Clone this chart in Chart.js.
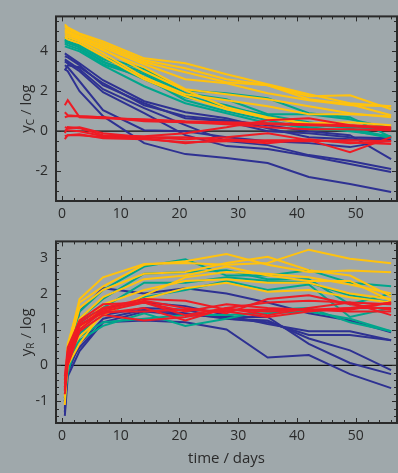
<!DOCTYPE html>
<html><head><meta charset="utf-8">
<script src="https://cdn.jsdelivr.net/npm/chart.js@4/dist/chart.umd.min.js"></script>
<style>
html,body{margin:0;padding:0;background:#9fa8ab;width:398px;height:473px;overflow:hidden;}
#c1{position:absolute;left:0;top:0;}
#c2{position:absolute;left:0;top:225px;}
</style></head><body>
<canvas id="c1" width="398" height="225"></canvas>
<canvas id="c2" width="398" height="248"></canvas>
<script>
// ---- data ----
const times = [0.5, 1, 3, 7, 14, 21, 28, 35, 42, 49, 56];
const xTickLabels = [0, 10, 20, 30, 40, 50];
const yTicksTop = [-2, 0, 2, 4];
const yTicksBottom = [-1, 0, 1, 2, 3];

// top panel: y_C
const cYellow = [
  [5.35, 5.2, 4.9, 4.5, 3.65, 3.4, 2.85, 2.35, 1.85, 1.4, 1.25],
  [5.25, 5.1, 4.85, 4.4, 3.55, 3.15, 2.6, 2.3, 1.75, 1.8, 1.1],
  [5.1, 5.0, 4.75, 4.3, 3.45, 2.95, 2.45, 2.3, 1.6, 1.35, 0.8],
  [4.95, 4.9, 4.7, 4.2, 3.35, 2.6, 2.4, 1.9, 1.55, 1.3, 1.25],
  [4.85, 4.8, 4.6, 4.05, 3.2, 2.1, 1.85, 1.6, 1.25, 0.9, 0.7],
  [4.75, 4.7, 4.5, 3.9, 2.7, 1.85, 1.55, 1.25, 0.85, 0.85, 0.75],
  [4.7, 4.6, 4.4, 3.75, 2.6, 1.75, 1.1, 0.65, 0.4, 0.45, 0.3],
  [5.0, 4.95, 4.6, 4.1, 3.0, 2.05, 1.2, 0.7, 0.35, 0.3, 0.2]
];
const cTeal = [
  [4.7, 4.65, 4.4, 3.7, 3.1, 2.05, 1.9, 1.65, 0.9, 0.7, -0.3],
  [4.6, 4.5, 4.3, 3.6, 2.95, 1.9, 1.6, 0.85, 0.85, 0.6, 0.15],
  [4.5, 4.4, 4.2, 3.45, 2.85, 1.8, 1.2, 0.8, 0.45, 0.15, -0.3],
  [4.4, 4.3, 4.1, 3.35, 2.7, 1.55, 1.0, 0.55, 0.1, 0.05, -0.35],
  [4.25, 4.2, 4.0, 3.3, 2.25, 1.4, 0.9, 0.4, 0.2, 0.0, -0.25],
  [4.55, 4.5, 4.2, 3.5, 2.6, 1.7, 1.3, 0.7, 0.3, 0.2, 0.1]
];
const cBlue = [
  [3.9, 3.8, 3.4, 2.55, 1.5, 0.95, 0.65, 0.15, -0.3, -0.4, -0.4],
  [3.75, 3.7, 3.3, 2.3, 1.4, 0.65, 0.5, 0.0, -0.1, -0.3, -0.35],
  [3.6, 3.5, 3.1, 2.1, 1.15, 0.3, -0.5, -0.7, -1.2, -1.5, -1.9],
  [3.5, 3.4, 3.0, 1.95, 0.9, -0.2, -0.75, -0.9, -1.25, -1.65, -2.05],
  [3.3, 3.2, 2.5, 1.05, 0.05, 0.0, -0.3, -0.5, -0.6, -0.8, -0.45],
  [3.1, 3.0, 2.0, 0.75, -0.6, -1.15, -1.35, -1.6, -2.3, -2.65, -3.05],
  [3.05, 3.3, 3.2, 2.4, 1.3, 0.75, 0.55, 0.3, 0.0, -0.2, -1.4]
];
const cRed = [
  [1.3, 1.55, 0.7, 0.65, 0.6, 0.5, 0.45, 0.4, 0.35, 0.3, 0.2],
  [0.95, 0.8, 0.75, 0.7, 0.55, 0.45, 0.4, 0.35, 0.3, 0.25, 0.15],
  [0.7, 0.75, 0.75, 0.7, 0.5, 0.45, 0.35, 0.2, 0.1, 0.1, 0.05],
  [0.2, 0.15, 0.2, -0.1, -0.3, -0.4, -0.3, -0.1, -0.45, -1.05, -0.3],
  [-0.1, 0.2, 0.15, -0.2, -0.25, -0.1, 0.2, 0.55, 0.65, 0.3, 0.1],
  [-0.4, -0.2, -0.15, -0.35, -0.4, -0.55, -0.5, -0.45, -0.45, -0.55, -0.65],
  [-0.25, -0.2, -0.2, -0.3, -0.35, -0.6, -0.4, -0.5, -0.5, -0.45, -0.5],
  [0.05, 0.05, 0.0, -0.25, -0.3, -0.3, -0.45, -0.6, -0.4, -0.6, -0.5]
];

// bottom panel: y_R
const rYellow = [
  [-1.1, 0.5, 1.85, 2.45, 2.82, 2.85, 2.8, 2.85, 3.22, 2.97, 2.84],
  [-0.8, 0.6, 1.75, 2.2, 2.8, 2.9, 3.1, 2.8, 2.6, 2.64, 2.59],
  [-0.6, 0.4, 1.6, 2.1, 2.55, 2.6, 2.85, 3.02, 2.65, 2.5, 1.92],
  [-0.5, 0.2, 1.3, 1.9, 2.4, 2.5, 2.75, 2.5, 2.35, 2.35, 1.8],
  [-0.7, 0.1, 1.0, 1.7, 2.1, 2.35, 2.4, 2.3, 2.3, 2.0, 1.85],
  [-0.9, 0.0, 0.6, 1.5, 1.85, 2.15, 2.3, 2.05, 2.1, 1.9, 1.75],
  [-0.4, 0.3, 0.8, 1.4, 1.95, 2.45, 2.6, 2.55, 2.45, 2.25, 2.0]
];
const rTeal = [
  [-0.9, 0.3, 1.5, 2.1, 2.75, 2.95, 2.5, 2.5, 2.65, 2.3, 2.2],
  [-0.7, 0.2, 1.3, 1.85, 2.55, 2.6, 2.65, 2.4, 2.4, 1.7, 2.0],
  [-0.6, 0.1, 1.2, 1.6, 2.3, 2.3, 2.45, 2.35, 2.3, 1.95, 1.75],
  [-1.0, -0.2, 0.9, 1.4, 1.9, 2.1, 2.35, 2.1, 2.25, 1.35, 1.6],
  [-0.5, 0.0, 0.7, 1.1, 1.45, 1.1, 1.3, 1.55, 1.6, 1.2, 0.95],
  [-0.8, -0.1, 0.8, 1.2, 1.3, 1.4, 1.4, 1.45, 1.5, 1.3, 0.95]
];
const rBlue = [
  [-1.3, 0.1, 1.5, 2.15, 2.0, 2.15, 2.0, 1.75, 1.45, 1.25, 0.92],
  [-1.2, 0.0, 1.2, 1.6, 1.75, 1.65, 1.4, 1.15, 0.95, 0.95, 0.7],
  [-1.0, -0.1, 0.9, 1.4, 1.6, 1.55, 1.3, 1.2, 0.85, 0.85, 0.7],
  [-0.9, -0.2, 0.6, 1.3, 1.55, 1.45, 1.3, 1.25, 0.75, 0.42, -0.13],
  [-1.4, -0.3, 0.4, 1.2, 1.5, 1.4, 1.35, 1.35, 0.6, 0.07, -0.24],
  [-1.0, 0.0, 0.5, 1.2, 1.25, 1.2, 1.0, 0.22, 0.29, -0.24, -0.63]
];
const rRed = [
  [-0.6, 0.3, 1.2, 1.6, 1.85, 1.8, 1.55, 1.5, 1.55, 1.6, 1.75],
  [-0.4, 0.4, 1.1, 1.55, 1.8, 1.6, 1.45, 1.85, 1.95, 1.7, 1.55],
  [-0.7, 0.2, 1.0, 1.5, 1.75, 1.4, 1.6, 1.75, 1.8, 1.75, 1.7],
  [-0.5, 0.1, 1.15, 1.45, 1.6, 1.25, 1.6, 1.4, 1.6, 1.75, 1.4],
  [-0.8, 0.0, 0.95, 1.4, 1.25, 1.35, 1.55, 1.55, 1.55, 1.5, 1.5],
  [-0.3, 0.5, 1.25, 1.7, 1.75, 1.5, 1.7, 1.6, 1.55, 1.55, 1.75],
  [-0.65, 0.25, 1.1, 1.5, 1.5, 1.55, 1.5, 1.35, 1.5, 1.6, 1.6]
];

// ---- styling ----
const COLORS = {yellow:'#ffc20e', teal:'#00a68c', blue:'#2e3192', red:'#ee1c25'};
const FONT = "'Open Sans', 'DejaVu Sans', sans-serif";
const TXT = '#2a2a2a';

function makeSets(groups) {
  const out = [];
  groups.forEach(([lines, col, ord]) => {
    lines.forEach(vals => out.push({
      data: vals.map((v, i) => ({x: times[i], y: v})),
      borderColor: col, borderWidth: 2, pointRadius: 0, tension: 0,
      fill: false, order: ord
    }));
  });
  return out;
}

function decoPlugin(ystep, sub) {
  return {
    id: 'deco',
    beforeDatasetsDraw(chart) {
      const {ctx, chartArea: a, scales: {y}} = chart;
      const py = y.getPixelForValue(0);
      ctx.save();
      ctx.strokeStyle = '#111'; ctx.lineWidth = 1.3;
      ctx.beginPath(); ctx.moveTo(a.left, py); ctx.lineTo(a.right, py); ctx.stroke();
      ctx.restore();
    },
    afterDraw(chart) {
      const {ctx, chartArea: a, scales: {x, y}} = chart;
      ctx.save();
      ctx.strokeStyle = '#2a2a2a';
      ctx.lineWidth = 1;
      ctx.beginPath();
      for (let v = 0; v <= x.max + 1e-6; v += 2) {
        const p = Math.round(x.getPixelForValue(v)) + 0.5;
        const len = (v % 10 === 0) ? 5 : 3;
        ctx.moveTo(p, a.bottom); ctx.lineTo(p, a.bottom - len);
        ctx.moveTo(p, a.top); ctx.lineTo(p, a.top + len);
      }
      const majorStep = ystep === 0.5 ? 2 : 1;
      const n0 = Math.ceil(y.min / ystep), n1 = Math.floor(y.max / ystep);
      for (let k = n0; k <= n1; k++) {
        const v = k * ystep;
        const p = Math.round(y.getPixelForValue(v)) + 0.5;
        const major = Math.abs(v - Math.round(v / majorStep) * majorStep) < 1e-6;
        const len = major ? 5 : 3;
        ctx.moveTo(a.left, p); ctx.lineTo(a.left + len, p);
        ctx.moveTo(a.right, p); ctx.lineTo(a.right - len, p);
      }
      ctx.stroke();
      ctx.lineWidth = 2;
      ctx.strokeRect(a.left, a.top, a.right - a.left, a.bottom - a.top);
      // y title with subscript
      const cy = (a.top + a.bottom) / 2;
      ctx.translate(31, cy);
      ctx.rotate(-Math.PI / 2);
      ctx.fillStyle = TXT;
      ctx.textBaseline = 'alphabetic';
      ctx.textAlign = 'left';
      const mainF = "15px " + FONT, subF = "10px " + FONT;
      ctx.font = mainF; const w1 = ctx.measureText('y').width;
      ctx.font = subF; const w2 = ctx.measureText(sub).width;
      ctx.font = mainF; const w3 = ctx.measureText(' / log').width;
      let sx = -(w1 + w2 + w3) / 2;
      ctx.font = mainF; ctx.fillText('y', sx, 0); sx += w1;
      ctx.font = subF; ctx.fillText(sub, sx, 3); sx += w2;
      ctx.font = mainF; ctx.fillText(' / log', sx, 0);
      ctx.restore();
    }
  };
}

function makeChart(id, groups, ymin, ymax, yTicks, ystep, sub, padTop, xAxisH, showTitle) {
  return new Chart(document.getElementById(id), {
    type: 'line',
    data: {datasets: makeSets(groups)},
    options: {
      responsive: false, animation: false,
      layout: {padding: {top: padTop, right: 1, left: 0, bottom: 0}},
      plugins: {legend: {display: false}, tooltip: {enabled: false}},
      scales: {
        x: {
          type: 'linear', min: -1, max: 57,
          grid: {display: false, drawTicks: false},
          border: {display: false},
          afterBuildTicks: s => { s.ticks = xTickLabels.map(v => ({value: v})); },
          afterFit: s => { s.height = xAxisH; },
          ticks: {color: TXT, font: {size: 14, family: FONT}, padding: 5, maxRotation: 0, autoSkip: false},
          title: {display: showTitle, text: 'time / days', color: TXT, font: {size: 15, family: FONT}, padding: {top: 0, bottom: 5}}
        },
        y: {
          min: ymin, max: ymax,
          grid: {display: false, drawTicks: false},
          border: {display: false},
          afterBuildTicks: s => { s.ticks = yTicks.map(v => ({value: v})); },
          afterFit: s => { s.width = 56; },
          ticks: {color: TXT, font: {size: 14, family: FONT}, padding: 8, autoSkip: false}
        }
      }
    },
    plugins: [decoPlugin(ystep, sub)]
  });
}

makeChart('c1', [[cRed, COLORS.red, 0], [cYellow, COLORS.yellow, 1], [cTeal, COLORS.teal, 2], [cBlue, COLORS.blue, 3]],
  -3.5, 5.75, yTicksTop, 0.5, 'C', 10, 24, false);
makeChart('c2', [[rRed, COLORS.red, 0], [rYellow, COLORS.yellow, 1], [rTeal, COLORS.teal, 2], [rBlue, COLORS.blue, 3]],
  -1.6, 3.45, yTicksBottom, 0.2, 'R', 7, 50, true);
</script>
</body></html>
